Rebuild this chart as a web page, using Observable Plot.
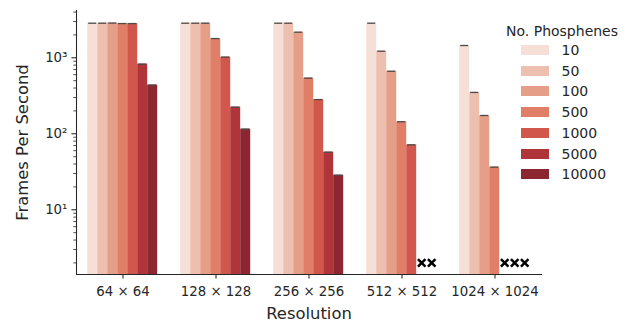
<!DOCTYPE html>
<html>
<head>
<meta charset="utf-8">
<script src="https://cdn.jsdelivr.net/npm/d3@7"></script>
<script src="https://cdn.jsdelivr.net/npm/@observablehq/plot@0.6"></script>
<style>
  body { margin: 0; background: #fff; }
  #wrap { position: relative; width: 628px; height: 322px; font-family: "DejaVu Sans", sans-serif; color: #262626; }
  #legend { position: absolute; left: 0; top: 0; width: 628px; height: 322px; pointer-events: none; font-size: 14px; }
  #legend .t { position: absolute; line-height: 16px; white-space: nowrap; }
  #legend .sw { position: absolute; width: 28px; height: 10px; }
</style>
</head>
<body>
<div id="wrap"><div id="legend"></div></div>
<script>
// ---- data ----
const resolutions = ["64 × 64", "128 × 128", "256 × 256", "512 × 512", "1024 × 1024"];
const phosphenes = [10, 50, 100, 500, 1000, 5000, 10000];
const fps_10    = [2850, 2850, 2850, 2850, 1450];
const fps_50    = [2850, 2850, 2850, 1220, 350];
const fps_100   = [2860, 2850, 2170, 665, 174];
const fps_500   = [2820, 1790, 540, 144, 36.4];
const fps_1000  = [2820, 1020, 282, 71.5, null];
const fps_5000  = [825, 224, 57.3, null, null];
const fps_10000 = [437, 115, 28.5, null, null];
const colors = ["#f5dfd6", "#ecbfae", "#e59f88", "#e07e67", "#d1574d", "#b0353a", "#8c2630"];
const majorTicks = [10, 100, 1000];
const majorLabels = ["10¹", "10²", "10³"];
const minorTicks = [2,3,4,5,6,7,8,9,20,30,40,50,60,70,80,90,200,300,400,500,600,700,800,900,2000,3000,4000];

const series = [fps_10, fps_50, fps_100, fps_500, fps_1000, fps_5000, fps_10000];
const rows = [];
const missing = [];
phosphenes.forEach((p, i) => {
  resolutions.forEach((r, j) => {
    const v = series[i][j];
    if (v == null) missing.push({res: r, phos: p});
    else rows.push({res: r, phos: p, fps: v});
  });
});

const ink = "#262626";
const chart = Plot.plot({
  width: 628,
  height: 322,
  marginLeft: 75.8,
  marginRight: 21,
  marginTop: 10,
  marginBottom: 48,
  style: {fontFamily: "DejaVu Sans, sans-serif", fontSize: "13.3px", color: ink, background: "white", overflow: "visible"},
  fx: {domain: resolutions, range: [75.8, 541.8], padding: 0, axis: null, label: null},
  x: {type: "band", domain: phosphenes, paddingInner: 0, paddingOuter: 0.875, axis: null},
  y: {type: "log", domain: [1.408, 4188], axis: null},
  color: {domain: phosphenes, range: colors},
  marks: [
    Plot.barY(rows, {fx: "res", x: "phos", y1: 1, y2: "fps", fill: "phos", clip: true}),
    Plot.tickY(rows, {fx: "res", x: "phos", y: "fps", stroke: "#4a4a4a", strokeWidth: 1.3, insetLeft: 1, insetRight: 1}),
    Plot.dot(missing, {fx: "res", x: "phos", y: () => 2, symbol: "times", r: 3.5, stroke: "black", strokeWidth: 2.5}),
    Plot.axisY({ticks: majorTicks, tickSize: 4.6, tickPadding: 4.5, tickFormat: d => majorLabels[majorTicks.indexOf(d)], label: null, stroke: ink, fill: ink, strokeWidth: 1.07, fontSize: 13.3}),
    Plot.axisY({ticks: minorTicks, tickSize: 2.7, tickFormat: () => "", label: null, stroke: ink, strokeWidth: 0.8}),
    Plot.axisFx({anchor: "bottom", tickSize: 4.6, tickPadding: 7, label: null, stroke: ink, fill: ink, strokeWidth: 1.07, fontSize: 13.3}),
    Plot.frame({anchor: "left", facet: "super", stroke: ink, strokeWidth: 1.07}),
    Plot.frame({anchor: "bottom", facet: "super", stroke: ink, strokeWidth: 1.07}),
    Plot.text(["Frames Per Second"], {facet: "super", frameAnchor: "left", textAnchor: "middle", lineAnchor: "middle", rotate: -90, dx: -53.5, fontSize: 16.4, fill: ink}),
    Plot.text(["Resolution"], {facet: "super", frameAnchor: "bottom", textAnchor: "middle", lineAnchor: "middle", dy: 39, fontSize: 16.4, fill: ink})
  ]
});
document.getElementById("wrap").prepend(chart);

// ---- legend ----
const leg = document.getElementById("legend");
const title = document.createElement("div");
title.className = "t";
title.textContent = "No. Phosphenes";
title.style.left = "506px";
title.style.top = (30.7 - 8) + "px";
leg.appendChild(title);
phosphenes.forEach((p, i) => {
  const cy = 50 + i * 20.7;
  const sw = document.createElement("div");
  sw.className = "sw";
  sw.style.left = "520.7px";
  sw.style.top = (cy - 5) + "px";
  sw.style.background = colors[i];
  leg.appendChild(sw);
  const t = document.createElement("div");
  t.className = "t";
  t.textContent = String(p);
  t.style.left = "561.5px";
  t.style.top = (cy - 8) + "px";
  leg.appendChild(t);
});
</script>
</body>
</html>
